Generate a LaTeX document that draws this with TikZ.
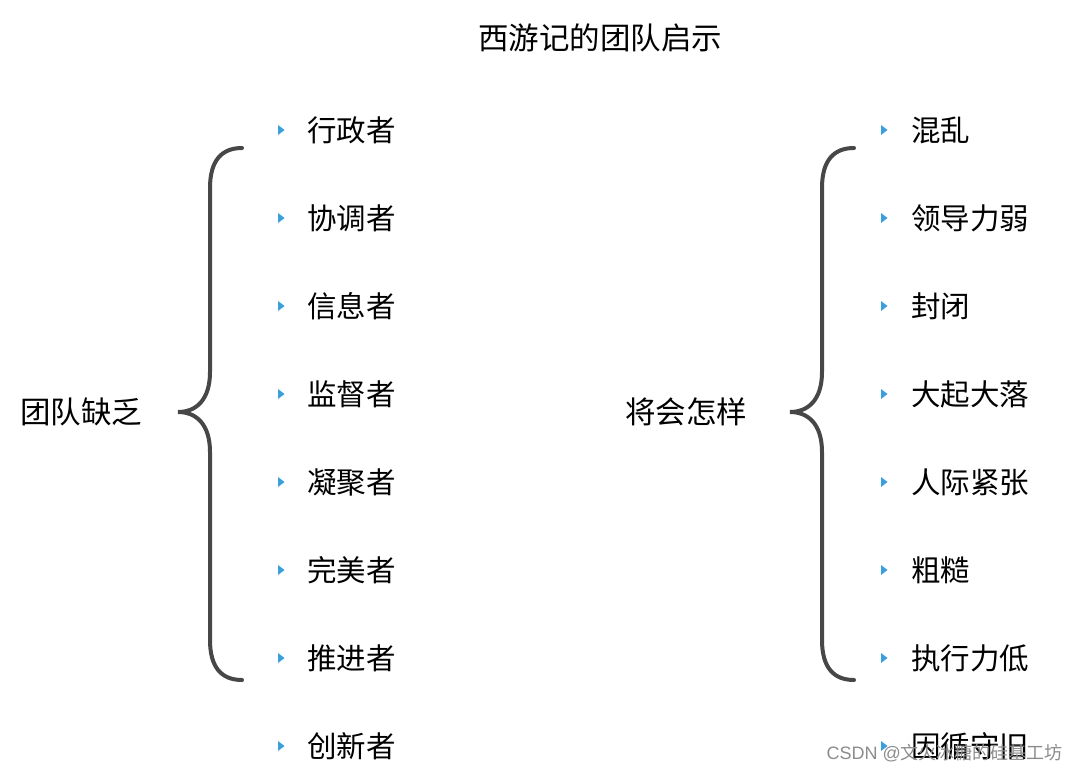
\documentclass[tikz,border=0pt]{standalone}
\usepackage{fontspec}
\setmainfont{Liberation Sans}
\newfontfamily\cjk{Noto Sans CJK SC}
\begin{document}
\begin{tikzpicture}[x=1pt,y=-1pt,
  item/.style={anchor=west,inner sep=0pt,font=\cjk\fontsize{29.5}{29.5}\selectfont},
  headlabel/.style={inner sep=0pt,font=\cjk\fontsize{30.5}{30.5}\selectfont},
  bulletmark/.style={fill=bulletblue,draw=none},
  bracestyle/.style={draw=black!72,line width=4pt,line cap=round}]
\definecolor{bulletblue}{HTML}{3A9FDB}
\useasboundingbox (0,0) rectangle (1078,773);
\node[headlabel] (title) at (600,38) {西游记的团队启示};
\node[headlabel] (lack) at (81,412) {团队缺乏};
\node[headlabel] (will) at (686,412) {将会怎样};
% left brace
\coordinate (lt) at (242,148);
\coordinate (lb) at (242,680);
\coordinate (ltip) at (178,412);
\draw[bracestyle] (lt) .. controls (222,148) and (210,160) .. (210,188) -- (210,372)
  .. controls (210,400) and (196,412) .. (ltip)
  .. controls (196,412) and (210,424) .. (210,452) -- (210,640)
  .. controls (210,668) and (222,680) .. (lb);
% right brace
\coordinate (rt) at (854,148);
\coordinate (rb) at (854,680);
\coordinate (rtip) at (790,412);
\draw[bracestyle] (rt) .. controls (834,148) and (822,160) .. (822,188) -- (822,372)
  .. controls (822,400) and (808,412) .. (rtip)
  .. controls (808,412) and (822,424) .. (822,452) -- (822,640)
  .. controls (822,668) and (834,680) .. (rb);
% left items
\foreach \t [count=\i] in {行政者,协调者,信息者,监督者,凝聚者,完美者,推进者,创新者}{
  \pgfmathsetmacro{\yy}{130+(\i-1)*88}
  \fill[bulletmark] (278,\yy-5) -- (284.5,\yy) -- (278,\yy+5) -- cycle;
  \node[item] (l\i) at (307,\yy) {\t};
}
% right items
\foreach \t [count=\i] in {混乱,领导力弱,封闭,大起大落,人际紧张,粗糙,执行力低,因循守旧}{
  \pgfmathsetmacro{\yy}{130+(\i-1)*88}
  \fill[bulletmark] (881,\yy-5) -- (887.5,\yy) -- (881,\yy+5) -- cycle;
  \node[item] (r\i) at (911,\yy) {\t};
}
\node[anchor=east,inner sep=0pt,text=black!45,font=\fontsize{18}{18}\selectfont] (wm) at (1063,753) {CSDN @{\cjk 文火冰糖的硅基工坊}};
\end{tikzpicture}
\end{document}
